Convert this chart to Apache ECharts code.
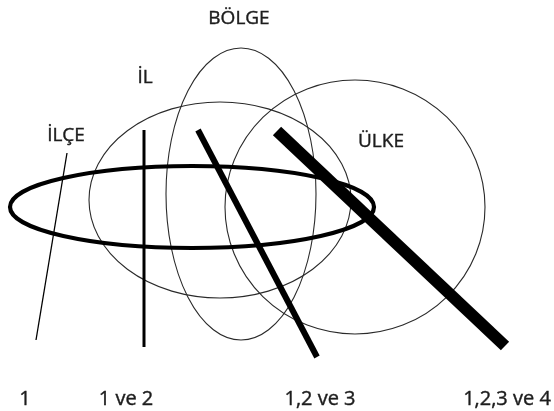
<!DOCTYPE html>
<html>
<head>
<meta charset="utf-8">
<script src="https://cdn.jsdelivr.net/npm/echarts@6/dist/echarts.min.js"></script>
<style>
  html, body { margin: 0; padding: 0; background: #ffffff; }
  #chart { width: 554px; height: 411px; }
</style>
</head>
<body>
<div id="chart"></div>
<script>
// Diagram geometry in drawing units (x to the right, y downward)
const ellipseNames = ['İLÇE', 'İL', 'BÖLGE', 'ÜLKE'];
const ellipseCx = [192, 220, 241, 355];
const ellipseCy = [207, 200, 194, 207];
const ellipseRx = [182, 131, 75, 130];
const ellipseRy = [41, 98, 146, 127];

const lineNames = ['1', '1 ve 2', '1,2 ve 3', '1,2,3 ve 4'];
const lineX1 = [67, 144, 198, 277];
const lineY1 = [153, 130, 130, 131];
const lineX2 = [36, 144, 317, 505];
const lineY2 = [340, 347, 357, 346];

const areaLabels = ['İLÇE', 'İL', 'BÖLGE', 'ÜLKE'];
const areaLabelX = [66, 145, 239, 381];
const areaLabelY = [136, 78, 19, 142];

const levelLabels = ['1', '1 ve 2', '1,2 ve 3', '1,2,3 ve 4'];
const levelLabelX = [25, 126, 320, 507];
const levelLabelY = [399, 399, 399, 399];

// Styles (kept separate from the values)
const ellipseWidths = [4.2, 1.1, 1.1, 1.1];
const ellipseColors = ['#000000', '#2a2a2a', '#2a2a2a', '#2a2a2a'];
const lineWidths = [1.3, 3, 6, 12];
const textColor = '#1c1c1c';
const fontFamily = '"Open Sans", Lato, sans-serif';

const ellipseData = ellipseNames.map((n, i) => [ellipseCx[i], ellipseCy[i], ellipseRx[i], ellipseRy[i], i]);
const lineData = lineNames.map((n, i) => [lineX1[i], lineY1[i], lineX2[i], lineY2[i], i]);
const areaData = areaLabels.map((n, i) => [areaLabelX[i], areaLabelY[i], i]);
const levelData = levelLabels.map((n, i) => [levelLabelX[i], levelLabelY[i], i]);

function textEl(api, c, txt, size) {
  return {
    type: 'text',
    x: c[0], y: c[1],
    style: {
      text: txt, fill: textColor, fontFamily: fontFamily, fontSize: size,
      align: 'center', verticalAlign: 'middle',
      stroke: textColor, lineWidth: 0.4
    }
  };
}

const chart = echarts.init(document.getElementById('chart'), null, { renderer: 'canvas' });
chart.setOption({
  animation: false,
  backgroundColor: '#ffffff',
  grid: { left: 0, right: 0, top: 0, bottom: 0 },
  xAxis: { type: 'value', min: 0, max: 554, show: false },
  yAxis: { type: 'value', min: 0, max: 411, inverse: true, show: false },
  series: [
    {
      type: 'custom',
      name: 'areas',
      coordinateSystem: 'cartesian2d',
      data: ellipseData,
      encode: { x: 0, y: 1 },
      renderItem: function (params, api) {
        const c = api.coord([api.value(0), api.value(1)]);
        const s = api.size([api.value(2), api.value(3)]);
        const i = api.value(4);
        const rx = s[0], ry = s[1];
        const p = 'M' + (c[0] - rx) + ' ' + c[1] +
          ' A' + rx + ' ' + ry + ' 0 1 0 ' + (c[0] + rx) + ' ' + c[1] +
          ' A' + rx + ' ' + ry + ' 0 1 0 ' + (c[0] - rx) + ' ' + c[1] + ' Z';
        return {
          type: 'path',
          shape: { pathData: p, layout: 'center', x: c[0] - rx, y: c[1] - ry, width: rx * 2, height: ry * 2 },
          style: { fill: null, stroke: ellipseColors[i], lineWidth: ellipseWidths[i] },
          z2: i === 0 ? 5 : 1
        };
      }
    },
    {
      type: 'custom',
      name: 'levels',
      coordinateSystem: 'cartesian2d',
      data: lineData,
      encode: { x: [0, 2], y: [1, 3] },
      z: 3,
      renderItem: function (params, api) {
        const a = api.coord([api.value(0), api.value(1)]);
        const b = api.coord([api.value(2), api.value(3)]);
        const i = api.value(4);
        return {
          type: 'line',
          shape: { x1: a[0], y1: a[1], x2: b[0], y2: b[1] },
          style: { stroke: '#000000', lineWidth: lineWidths[i], lineCap: 'butt' }
        };
      }
    },
    {
      type: 'custom',
      name: 'areaLabels',
      coordinateSystem: 'cartesian2d',
      data: areaData,
      encode: { x: 0, y: 1 },
      z: 4,
      renderItem: function (params, api) {
        const c = api.coord([api.value(0), api.value(1)]);
        return textEl(api, c, areaLabels[api.value(2)], 19);
      }
    },
    {
      type: 'custom',
      name: 'levelLabels',
      coordinateSystem: 'cartesian2d',
      data: levelData,
      encode: { x: 0, y: 1 },
      z: 4,
      renderItem: function (params, api) {
        const c = api.coord([api.value(0), api.value(1)]);
        return textEl(api, c, levelLabels[api.value(2)], 20);
      }
    }
  ]
});
</script>
</body>
</html>
